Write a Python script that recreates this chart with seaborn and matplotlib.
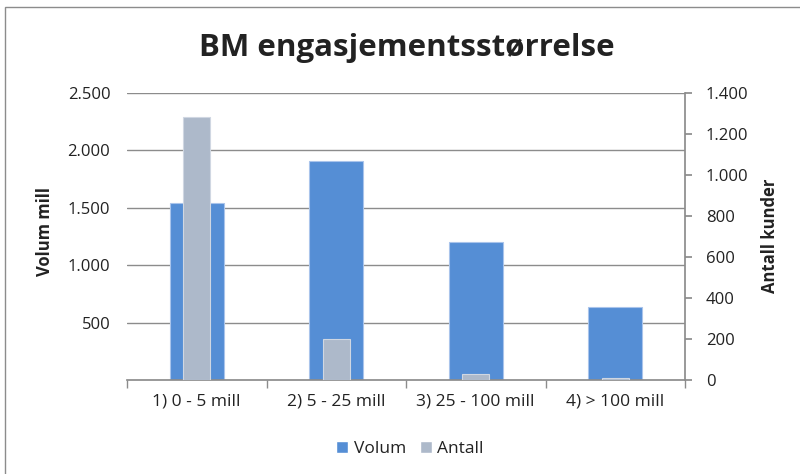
import matplotlib
matplotlib.use("Agg")
import matplotlib.pyplot as plt
import seaborn as sns
import pandas as pd
from matplotlib.patches import Rectangle, Patch
from matplotlib.ticker import FuncFormatter

categories = ["1) 0 - 5 mill", "2) 5 - 25 mill", "3) 25 - 100 mill", "4) > 100 mill"]
volum = [1540, 1910, 1200, 635]
antall = [1285, 200, 28, 8]

df = pd.DataFrame({"kategori": categories, "Volum": volum, "Antall": antall})

sns.set_theme(style="white")
plt.rcParams["font.family"] = ["Open Sans", "DejaVu Sans"]

blue = "#558ED5"
grey = "#ADB9CA"
txt = "#222222"

fig = plt.figure(figsize=(8, 4.74), dpi=100)
ax = fig.add_axes([127 / 800, 1 - 380 / 474, (685 - 127) / 800, (380 - 93) / 474])
ax2 = ax.twinx()

sns.barplot(data=df, x="kategori", y="Volum", color=blue, width=0.39, ax=ax,
            saturation=1, edgecolor="#A9C4EB", linewidth=0.8, zorder=2)
sns.barplot(data=df, x="kategori", y="Antall", color=grey, width=0.195, ax=ax2,
            saturation=1, edgecolor="#D0D7E2", linewidth=0.8, zorder=3)

ax.set_ylim(0, 2500)
ax2.set_ylim(0, 1400)
ax.set_xlim(-0.5, 3.5)

thousands = FuncFormatter(lambda v, p: f"{int(v):,}".replace(",", "."))
ax.set_yticks([500, 1000, 1500, 2000, 2500])
ax.yaxis.set_major_formatter(thousands)
ax2.set_yticks(range(0, 1401, 200))
ax2.yaxis.set_major_formatter(thousands)

ax.yaxis.grid(True, color="#8C8C8C", linewidth=1)
ax.set_axisbelow(True)

for s in ["top", "left", "right"]:
    ax.spines[s].set_visible(False)
for s in ["top", "left", "bottom"]:
    ax2.spines[s].set_visible(False)
ax.spines["bottom"].set_color("#8C8C8C")
ax2.spines["right"].set_color("#8C8C8C")

# category boundary ticks on the x axis
ax.set_xticks([0, 1, 2, 3])
ax.set_xticklabels(categories)
ax.set_xticks([-0.5, 0.5, 1.5, 2.5, 3.5], minor=True)
ax.tick_params(axis="x", which="major", length=0, pad=10, labelsize=12.5, labelcolor=txt)
ax.tick_params(axis="x", which="minor", length=6, color="#8C8C8C", direction="out", bottom=True)
ax.tick_params(axis="y", length=0, pad=12, labelsize=12, labelcolor=txt, left=False)
ax2.tick_params(axis="y", length=5, color="#8C8C8C", direction="out", pad=10,
                labelsize=12, labelcolor=txt, right=True)

ax.set_xlabel("")
ax.set_ylabel("")
ax2.set_ylabel("")
fig.text(45 / 800, 1 - 232 / 474, "Volum mill", rotation=90, ha="center", va="center",
         fontsize=12, fontweight="bold", color=txt)
fig.text(770 / 800, 1 - 236 / 474, "Antall kunder", rotation=90, ha="center", va="center",
         fontsize=12, fontweight="bold", color=txt)

fig.text(407 / 800, 1 - 48 / 474, "BM engasjementsstørrelse", ha="center", va="center",
         fontsize=22.5, fontweight="bold", color=txt)

handles = [Patch(facecolor=blue, label="Volum"), Patch(facecolor=grey, label="Antall")]
fig.legend(handles=handles, loc="center", bbox_to_anchor=(410 / 800, 1 - 449 / 474), ncol=2,
           frameon=False, fontsize=12.5, handlelength=0.7, handleheight=0.7,
           handletextpad=0.3, columnspacing=0.8, labelcolor=txt)

# outer chart border
fig.patches.append(Rectangle((5 / 800, -0.01), 1, 1 - 7 / 474 + 0.01, transform=fig.transFigure,
                             fill=False, edgecolor="#8C8C8C", linewidth=1))

fig.savefig("out.png", dpi=100)
